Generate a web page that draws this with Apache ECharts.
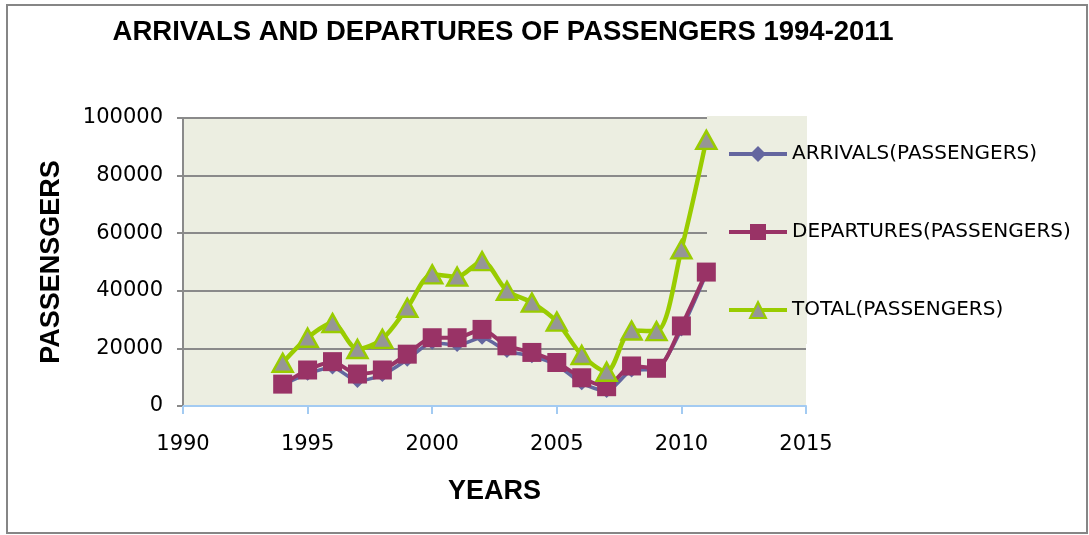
<!DOCTYPE html>
<html>
<head>
<meta charset="utf-8">
<script src="https://cdn.jsdelivr.net/npm/echarts@6/dist/echarts.min.js"></script>
<style>
  html, body { margin: 0; padding: 0; background: #ffffff; }
  #chart { width: 1089px; height: 535px; }
</style>
</head>
<body>
<div id="chart"></div>
<script>
// Passenger counts per year, 1994-2011
const years = [1994, 1995, 1996, 1997, 1998, 1999, 2000, 2001, 2002, 2003, 2004, 2005, 2006, 2007, 2008, 2009, 2010, 2011];
const arrivals = [7400, 11200, 13400, 8700, 10800, 16100, 22000, 21200, 23700, 19100, 17300, 14200, 7900, 5200, 12300, 12900, 26600, 45900];
const departures = [7600, 12500, 15400, 11100, 12500, 18000, 23700, 23700, 26600, 20900, 18600, 15100, 9800, 6700, 13900, 13100, 27800, 46500];
const total = [15000, 23700, 28800, 19800, 23300, 34100, 45700, 44900, 50300, 40000, 35900, 29300, 17700, 11900, 26200, 26000, 54400, 92400];

const seriesNames = ['ARRIVALS(PASSENGERS)', 'DEPARTURES(PASSENGERS)', 'TOTAL(PASSENGERS)'];

const pairs = (vals) => years.map((y, i) => [y, vals[i]]);

const chart = echarts.init(document.getElementById('chart'), null, { renderer: 'canvas' });

const plotBg = '#ECEEE1';
const gridColor = '#8A8A8A';
const bodyFont = 'DejaVu Sans';
const boldFont = 'Liberation Sans';
const plain = (v) => String(v);

const option = {
  animation: false,
  backgroundColor: '#ffffff',
  title: {
    text: 'ARRIVALS AND DEPARTURES OF PASSENGERS 1994-2011',
    left: 498,
    top: 13,
    textAlign: 'center',
    textStyle: { fontFamily: boldFont, fontWeight: 'bold', fontSize: 27.5, color: '#000' }
  },
  grid: {
    left: 183, right: 283, top: 118, bottom: 129,
    show: true, backgroundColor: plotBg, borderWidth: 0
  },
  legend: {
    orient: 'vertical',
    left: 722,
    top: 139,
    itemWidth: 58,
    itemHeight: 20,
    itemGap: 58,
    data: seriesNames,
    lineStyle: { width: 4 },
    textStyle: { fontFamily: bodyFont, fontSize: 20, color: '#000', lineHeight: 20 },
    z: 20
  },
  xAxis: {
    type: 'value',
    min: 1990, max: 2015, interval: 5,
    name: 'YEARS',
    nameLocation: 'middle',
    nameGap: 72,
    nameTextStyle: { fontFamily: boldFont, fontWeight: 'bold', fontSize: 27, color: '#000' },
    axisLine: { show: true, lineStyle: { color: '#A3CBF2', width: 2 } },
    axisTick: { show: true, length: 8, lineStyle: { color: '#A3CBF2', width: 2 } },
    axisLabel: { fontFamily: bodyFont, fontSize: 21, color: '#000', margin: 28, formatter: plain },
    splitLine: { show: false }
  },
  yAxis: {
    type: 'value',
    min: 0, max: 100000, interval: 20000,
    name: 'PASSENSGERS',
    nameLocation: 'middle',
    nameGap: 118,
    nameRotate: 90,
    nameTextStyle: { fontFamily: boldFont, fontWeight: 'bold', fontSize: 27, color: '#000' },
    axisLine: { show: true, lineStyle: { color: gridColor, width: 2 } },
    axisTick: { show: true, length: 6, lineStyle: { color: gridColor, width: 2 } },
    axisLabel: { fontFamily: bodyFont, fontSize: 21, color: '#000', margin: 20, formatter: plain },
    splitLine: { show: true, lineStyle: { color: gridColor, width: 2 } }
  },
  series: [
    {
      name: seriesNames[0], type: 'line', smooth: 0.25,
      data: pairs(arrivals),
      symbol: 'diamond', symbolSize: 14,
      lineStyle: { color: '#64669F', width: 3.5 },
      itemStyle: { color: '#64669F' },
      z: 10
    },
    {
      name: seriesNames[1], type: 'line', smooth: 0.25,
      data: pairs(departures),
      symbol: 'rect', symbolSize: 19,
      lineStyle: { color: '#993366', width: 4 },
      itemStyle: { color: '#993366' },
      z: 10
    },
    {
      name: seriesNames[2], type: 'line', smooth: 0.3,
      data: pairs(total),
      symbol: 'triangle', symbolSize: [20, 18],
      lineStyle: { color: '#99CC00', width: 4.5 },
      itemStyle: { color: '#969696', borderColor: '#99CC00', borderWidth: 2.5 },
      z: 10
    }
  ]
};

chart.setOption(option);

// Frame round the chart and a plot-coloured panel behind the legend
const plotRight = chart.convertToPixel({ xAxisIndex: 0 }, 2015);
const plotTop = chart.convertToPixel({ yAxisIndex: 0 }, 100000);
const panelLeft = 707;
const panelBottom = 344;
chart.setOption({
  graphic: {
    elements: [
      {
        type: 'rect', z: 5,
        shape: { x: panelLeft, y: plotTop - 2, width: plotRight - panelLeft + 1, height: panelBottom - plotTop + 2 },
        style: { fill: plotBg }
      },
      {
        type: 'rect', z: 5,
        shape: { x: 7, y: 5, width: 1080, height: 528 },
        style: { fill: 'none', stroke: '#868686', lineWidth: 2 }
      }
    ]
  }
});
</script>
</body>
</html>
